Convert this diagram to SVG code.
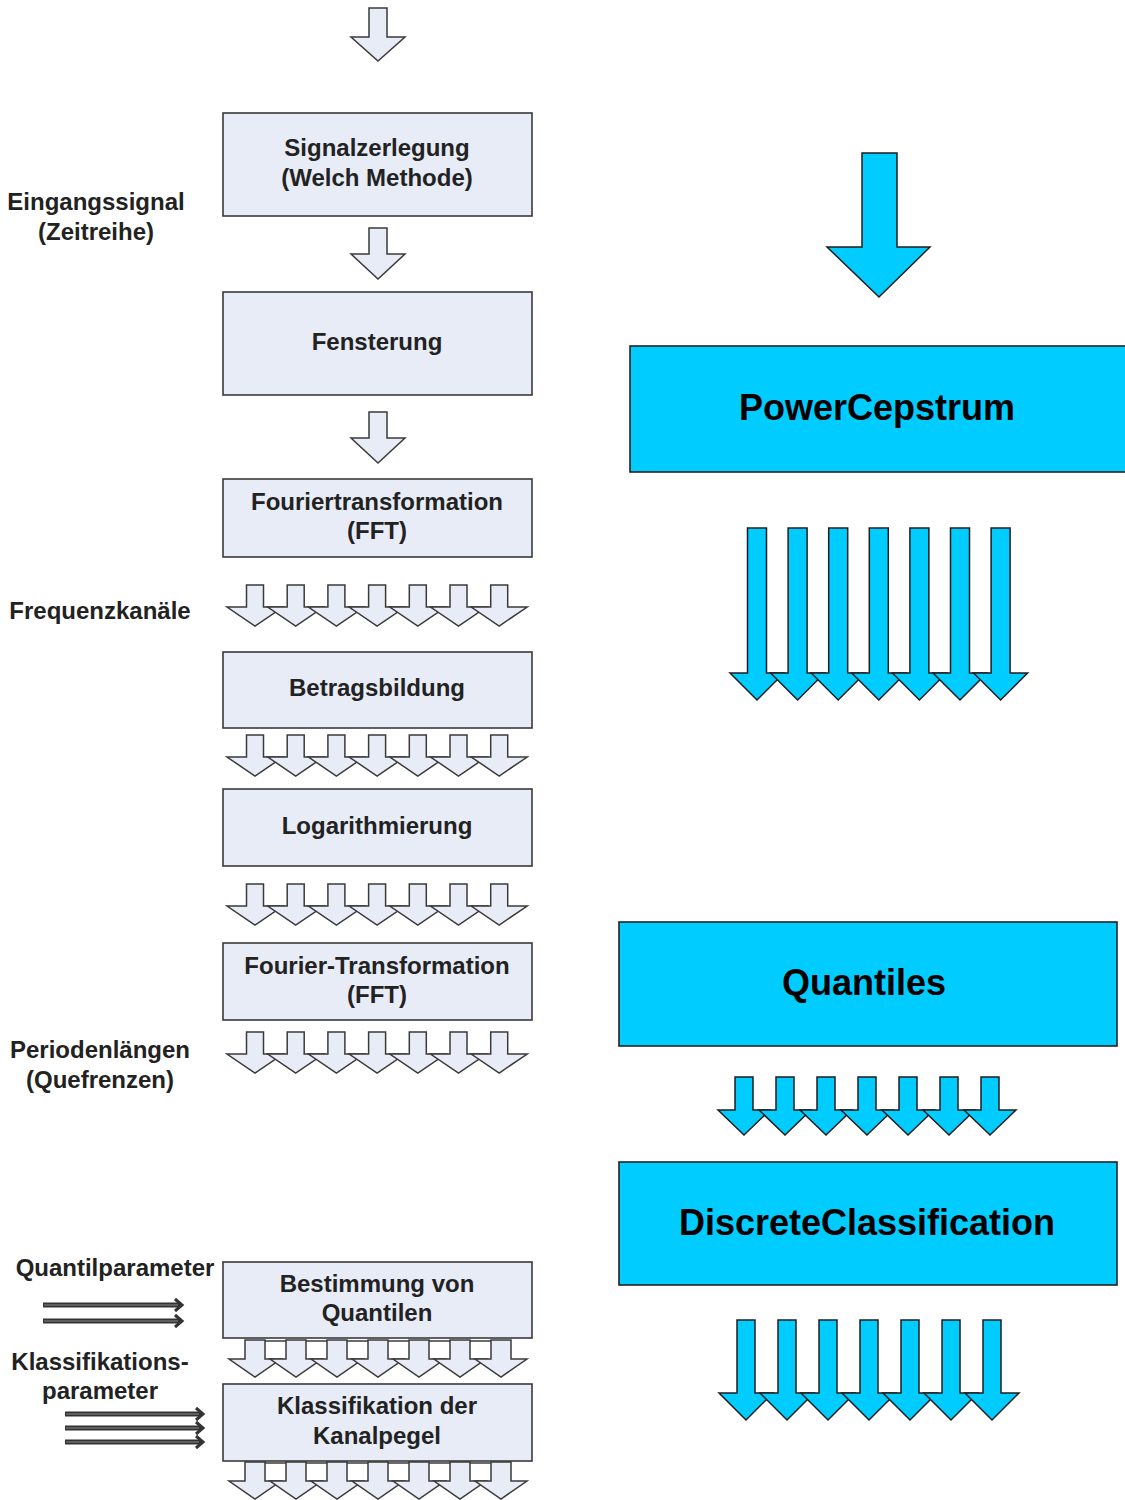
<svg xmlns="http://www.w3.org/2000/svg" xmlns:xlink="http://www.w3.org/1999/xlink" width="1125" height="1500" viewBox="0 0 1125 1500">
<style>
.box{fill:#e8ecf7;stroke:#3a3a3a;stroke-width:1.6}
.bbox{fill:#00ccff;stroke:#222;stroke-width:1.6}
.ga{fill:#e8ecf7;stroke:#3a3a3a;stroke-width:1.5;stroke-linejoin:miter}
.ba{fill:#00ccff;stroke:#1e1e1e;stroke-width:1.5}
.t{font-family:"Liberation Sans",Arial,sans-serif;font-weight:bold;font-size:24px;fill:#222;text-anchor:middle}
.tl{font-family:"Liberation Sans",Arial,sans-serif;font-weight:bold;font-size:36px;fill:#000;text-anchor:middle}
.pl{stroke:#333;stroke-width:5;fill:none}
.pli{stroke:#8a8a8a;stroke-width:1.2;fill:none}
.ph{stroke:#333;stroke-width:3;fill:none}
</style>
<defs>
<path id="g7" class="ga" d="M-8.5,0 H8.5 V22 H28 L0,41 L-28,22 H-8.5 Z"/>
<path id="g8" class="ga" d="M-10,0 H10 V19 H26 L0,37 L-26,19 H-10 Z"/>
<path id="bl" class="ba" d="M-9.5,0 H9.5 V145 H27 L0,172 L-27,145 H-9.5 Z"/>
<path id="bs" class="ba" d="M-9,0 H9 V33 H26 L0,58 L-26,33 H-9 Z"/>
<path id="bm" class="ba" d="M-9,0 H9 V73 H27 L0,100 L-27,73 H-9 Z"/>
</defs>

<g id="connectors">
  <polygon class="ga" points="369,8 387,8 387,37 405,37 378,61 351,37 369,37"/>
  <polygon class="ga" points="369,228 387,228 387,254 405,254 378,279 351,254 369,254"/>
  <polygon class="ga" points="369,412 387,412 387,438 405,438 378,463 351,438 369,438"/>
  <g id="row1">
    <use xlink:href="#g7" x="255" y="585"/><use xlink:href="#g7" x="295.7" y="585"/><use xlink:href="#g7" x="336.4" y="585"/><use xlink:href="#g7" x="377.1" y="585"/><use xlink:href="#g7" x="417.8" y="585"/><use xlink:href="#g7" x="458.5" y="585"/><use xlink:href="#g7" x="499.2" y="585"/>
  </g>
  <g id="row2">
    <use xlink:href="#g7" x="255" y="735"/><use xlink:href="#g7" x="295.7" y="735"/><use xlink:href="#g7" x="336.4" y="735"/><use xlink:href="#g7" x="377.1" y="735"/><use xlink:href="#g7" x="417.8" y="735"/><use xlink:href="#g7" x="458.5" y="735"/><use xlink:href="#g7" x="499.2" y="735"/>
  </g>
  <g id="row3">
    <use xlink:href="#g7" x="255" y="884"/><use xlink:href="#g7" x="295.7" y="884"/><use xlink:href="#g7" x="336.4" y="884"/><use xlink:href="#g7" x="377.1" y="884"/><use xlink:href="#g7" x="417.8" y="884"/><use xlink:href="#g7" x="458.5" y="884"/><use xlink:href="#g7" x="499.2" y="884"/>
  </g>
  <g id="row4">
    <use xlink:href="#g7" x="255" y="1032"/><use xlink:href="#g7" x="295.7" y="1032"/><use xlink:href="#g7" x="336.4" y="1032"/><use xlink:href="#g7" x="377.1" y="1032"/><use xlink:href="#g7" x="417.8" y="1032"/><use xlink:href="#g7" x="458.5" y="1032"/><use xlink:href="#g7" x="499.2" y="1032"/>
  </g>
  <g id="row5">
    <line x1="245" y1="1341" x2="511" y2="1341" stroke="#3a3a3a" stroke-width="1.5"/>
    <use xlink:href="#g8" x="255" y="1340"/><use xlink:href="#g8" x="296" y="1340"/><use xlink:href="#g8" x="337" y="1340"/><use xlink:href="#g8" x="378" y="1340"/><use xlink:href="#g8" x="419" y="1340"/><use xlink:href="#g8" x="460" y="1340"/><use xlink:href="#g8" x="501" y="1340"/>
  </g>
  <g id="row6">
    <line x1="245" y1="1463" x2="511" y2="1463" stroke="#3a3a3a" stroke-width="1.5"/>
    <use xlink:href="#g8" x="255" y="1462"/><use xlink:href="#g8" x="296" y="1462"/><use xlink:href="#g8" x="337" y="1462"/><use xlink:href="#g8" x="378" y="1462"/><use xlink:href="#g8" x="419" y="1462"/><use xlink:href="#g8" x="460" y="1462"/><use xlink:href="#g8" x="501" y="1462"/>
  </g>
  <g id="param-arrows">
    <line class="pl" x1="43" y1="1305" x2="180" y2="1305"/><line class="pli" x1="44" y1="1305" x2="178" y2="1305"/><polyline class="ph" points="175,1299 182,1305 175,1311"/>
    <line class="pl" x1="43" y1="1321" x2="180" y2="1321"/><line class="pli" x1="44" y1="1321" x2="178" y2="1321"/><polyline class="ph" points="175,1315 182,1321 175,1327"/>
    <line class="pl" x1="65" y1="1414" x2="201" y2="1414"/><line class="pli" x1="66" y1="1414" x2="199" y2="1414"/><polyline class="ph" points="196,1408 203,1414 196,1420"/>
    <line class="pl" x1="65" y1="1428" x2="201" y2="1428"/><line class="pli" x1="66" y1="1428" x2="199" y2="1428"/><polyline class="ph" points="196,1422 203,1428 196,1434"/>
    <line class="pl" x1="65" y1="1442" x2="201" y2="1442"/><line class="pli" x1="66" y1="1442" x2="199" y2="1442"/><polyline class="ph" points="196,1436 203,1442 196,1448"/>
  </g>
  <polygon class="ba" points="862,153 897,153 897,247 930,247 879,297 827,247 862,247"/>
  <g id="blue-row1">
    <use xlink:href="#bl" x="757" y="528"/><use xlink:href="#bl" x="797.6" y="528"/><use xlink:href="#bl" x="838.2" y="528"/><use xlink:href="#bl" x="878.8" y="528"/><use xlink:href="#bl" x="919.4" y="528"/><use xlink:href="#bl" x="960" y="528"/><use xlink:href="#bl" x="1000.6" y="528"/>
  </g>
  <g id="blue-row2">
    <use xlink:href="#bs" x="744" y="1077"/><use xlink:href="#bs" x="785" y="1077"/><use xlink:href="#bs" x="826" y="1077"/><use xlink:href="#bs" x="867" y="1077"/><use xlink:href="#bs" x="908" y="1077"/><use xlink:href="#bs" x="949" y="1077"/><use xlink:href="#bs" x="990" y="1077"/>
  </g>
  <g id="blue-row3">
    <use xlink:href="#bm" x="746" y="1320"/><use xlink:href="#bm" x="787" y="1320"/><use xlink:href="#bm" x="828" y="1320"/><use xlink:href="#bm" x="869" y="1320"/><use xlink:href="#bm" x="910" y="1320"/><use xlink:href="#bm" x="951" y="1320"/><use xlink:href="#bm" x="992" y="1320"/>
  </g>
</g>

<g id="n-signalzerlegung"><rect class="box" x="223" y="113" width="309" height="103"/><text class="t" x="377" y="156">Signalzerlegung</text><text class="t" x="377" y="186">(Welch Methode)</text></g>
<g id="n-fensterung"><rect class="box" x="223" y="292" width="309" height="103"/><text class="t" x="377" y="350">Fensterung</text></g>
<g id="n-fft1"><rect class="box" x="223" y="479" width="309" height="78"/><text class="t" x="377" y="510">Fouriertransformation</text><text class="t" x="377" y="539">(FFT)</text></g>
<g id="n-betrag"><rect class="box" x="223" y="652" width="309" height="76"/><text class="t" x="377" y="696">Betragsbildung</text></g>
<g id="n-log"><rect class="box" x="223" y="789" width="309" height="77"/><text class="t" x="377" y="834">Logarithmierung</text></g>
<g id="n-fft2"><rect class="box" x="223" y="943" width="309" height="77"/><text class="t" x="377" y="974">Fourier-Transformation</text><text class="t" x="377" y="1003">(FFT)</text></g>
<g id="n-quantile"><rect class="box" x="223" y="1262" width="309" height="76"/><text class="t" x="377" y="1292">Bestimmung von</text><text class="t" x="377" y="1321">Quantilen</text></g>
<g id="n-klass"><rect class="box" x="223" y="1384" width="309" height="77"/><text class="t" x="377" y="1414">Klassifikation der</text><text class="t" x="377" y="1444">Kanalpegel</text></g>

<g id="l-eingang"><text class="t" x="96" y="210">Eingangssignal</text><text class="t" x="96" y="240">(Zeitreihe)</text></g>
<g id="l-freq"><text class="t" x="100" y="619">Frequenzkanäle</text></g>
<g id="l-perioden"><text class="t" x="100" y="1058">Periodenlängen</text><text class="t" x="100" y="1088">(Quefrenzen)</text></g>
<g id="l-quantilparam"><text class="t" x="115" y="1276">Quantilparameter</text></g>
<g id="l-klassparam"><text class="t" x="100" y="1370">Klassifikations-</text><text class="t" x="100" y="1399">parameter</text></g>

<g id="n-powercepstrum"><rect class="bbox" x="630" y="346" width="500" height="126"/><text class="tl" x="877" y="420">PowerCepstrum</text></g>
<g id="n-quantiles"><rect class="bbox" x="619" y="922" width="498" height="124"/><text class="tl" x="864" y="995">Quantiles</text></g>
<g id="n-discrete"><rect class="bbox" x="619" y="1162" width="498" height="123"/><text class="tl" x="867" y="1235">DiscreteClassification</text></g>
</svg>
